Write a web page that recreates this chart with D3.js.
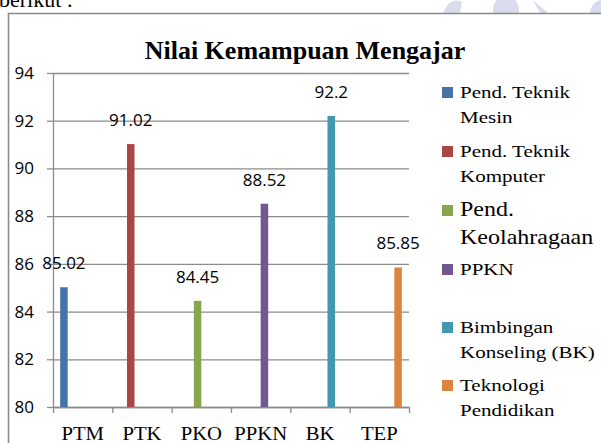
<!DOCTYPE html>
<html><head><meta charset="utf-8">
<script src="https://cdn.jsdelivr.net/npm/d3@7"></script>
<style>
html,body{margin:0;padding:0;background:#fff;}
svg{display:block;}
.serif{font-family:'Liberation Serif','Times New Roman',Times,'DejaVu Serif',serif;}
.sans{font-family:'Open Sans','Liberation Sans',sans-serif;}
</style></head>
<body>
<script>
const categories = ["PTM","PTK","PKO","PPKN","BK","TEP"];
const seriesNames = ["Pend. Teknik Mesin","Pend. Teknik Komputer","Pend. Keolahragaan","PPKN","Bimbingan Konseling (BK)","Teknologi Pendidikan"];
const values = [85.02, 91.02, 84.45, 88.52, 92.2, 85.85];
const yTicks = [80, 82, 84, 86, 88, 90, 92, 94];
const legendLines = [["Pend. Teknik","Mesin"],["Pend. Teknik","Komputer"],["Pend.","Keolahragaan"],["PPKN"],["Bimbingan","Konseling (BK)"],["Teknologi","Pendidikan"]];
const colors = ["#4572A7","#AA4643","#89A54E","#71588F","#4198AF","#DB843D"];
const titleText = "Nilai Kemampuan Mengajar";

const W = 601, H = 443;
const svg = d3.select("body").append("svg").attr("width", W).attr("height", H);

// faint watermark above frame
const wm = svg.append("g").attr("fill", "#d9dcec");
wm.append("clipPath").attr("id","clipTop").append("rect").attr("x",0).attr("y",0).attr("width",W).attr("height",13);
const wmg = wm.append("g").attr("clip-path","url(#clipTop)");
wmg.append("path").attr("d","M443,13 Q450,-4 462,2 L460,13 Z");
wmg.append("ellipse").attr("cx",506).attr("cy",10).attr("rx",13).attr("ry",14);
wmg.append("path").attr("d","M533,0 L548,13 L540,13 Z");
wmg.append("ellipse").attr("cx",602).attr("cy",14).attr("rx",12).attr("ry",14);

// heading text cut off at top
svg.append("text").attr("class","serif").attr("x",-1).attr("y",7).attr("font-size",22).attr("fill","#000").text("berikut :");

// frame
svg.append("path").attr("d","M8.5,443 L8.5,13.5 L601,13.5").attr("fill","none").attr("stroke","#8a8a8a").attr("stroke-width",1.6);

const x0 = d3.scaleBand().domain(categories).range([53, 409]).paddingInner(0).paddingOuter(0);
const x1 = d3.scaleBand().domain(d3.range(seriesNames.length)).range([0, x0.bandwidth()]).paddingInner(0).paddingOuter(0.955);
const y = d3.scaleLinear().domain([80, 94]).range([407, 73]);

// gridlines
const grid = svg.append("g").attr("transform","translate(53,0)")
  .call(d3.axisLeft(y).tickValues(yTicks).tickSize(-356).tickFormat(""));
grid.select(".domain").remove();
grid.selectAll("line").attr("stroke","#8c8c8c").attr("stroke-width",1.3);

// y axis
const yAxis = svg.append("g").attr("transform","translate(53,0)")
  .call(d3.axisLeft(y).tickValues(yTicks).tickSizeInner(6).tickSizeOuter(0).tickPadding(13).tickFormat(d3.format("d")));
yAxis.select(".domain").attr("stroke","#8c8c8c").attr("stroke-width",1.3);
yAxis.selectAll("line").attr("stroke","#8c8c8c").attr("stroke-width",1.3);
yAxis.selectAll("text").attr("class","sans").attr("font-family",null).attr("font-size",17).attr("fill","#000");

// x axis boundary ticks
const bScale = d3.scalePoint().domain(d3.range(categories.length + 1)).range([53, 409]);
const xTicks = svg.append("g").attr("transform","translate(0,407)")
  .call(d3.axisBottom(bScale).tickSizeInner(6).tickSizeOuter(0).tickFormat(""));
xTicks.select(".domain").attr("stroke","#8c8c8c").attr("stroke-width",1.3);
xTicks.selectAll("line").attr("stroke","#8c8c8c").attr("stroke-width",1.3);

// x labels
const xLab = svg.append("g").attr("transform","translate(0,407)")
  .call(d3.axisBottom(x0).tickSize(0));
xLab.attr("font-family",null);
xLab.select(".domain").remove();
xLab.selectAll("text").attr("y",0).attr("dy",0)
  .attr("class","serif")
  .attr("transform","translate(0,33) scale(1.15,1)")
  .attr("font-size",18).attr("fill","#000");

// bars
svg.append("g").selectAll("rect").data(values).join("rect")
  .attr("x",(d,i)=>x0(categories[i]) + x1(i))
  .attr("width", x1.bandwidth())
  .attr("y", d=>y(d))
  .attr("height", d=>y(80)-y(d))
  .attr("fill",(d,i)=>colors[i]);

// data labels
svg.append("g").selectAll("text").data(values).join("text")
  .attr("class","sans")
  .attr("transform",(d,i)=>`translate(${x0(categories[i]) + x1(i) + x1.bandwidth()/2},${y(d)-18})`)
  .attr("text-anchor","middle")
  .attr("font-size",17).attr("fill","#000")
  .text(d=>d3.format("")(d));

// title
svg.append("text").attr("class","serif").attr("x",305).attr("y",59).attr("text-anchor","middle")
  .attr("font-weight","bold").attr("font-size",26).attr("fill","#000")
  .text(titleText);

// legend
const legTop = [98, 157, 216, 275, 333, 391];
const legSize = [17.5, 17.5, 20, 17.5, 17.5, 17.5];
const leg = svg.append("g");
seriesNames.forEach((s,i)=>{
  const g = leg.append("g");
  g.append("rect").attr("x",442).attr("y",legTop[i]-11).attr("width",11).attr("height",11).attr("fill",colors[i]);
  legendLines[i].forEach((ln,j)=>{
    g.append("text").attr("class","serif").attr("transform",`translate(460,${legTop[i] + j*(legSize[i]>18?28:25)}) scale(1.2,1)`)
      .attr("font-size",legSize[i]).attr("fill","#000").text(ln);
  });
});
</script>
</body></html>
